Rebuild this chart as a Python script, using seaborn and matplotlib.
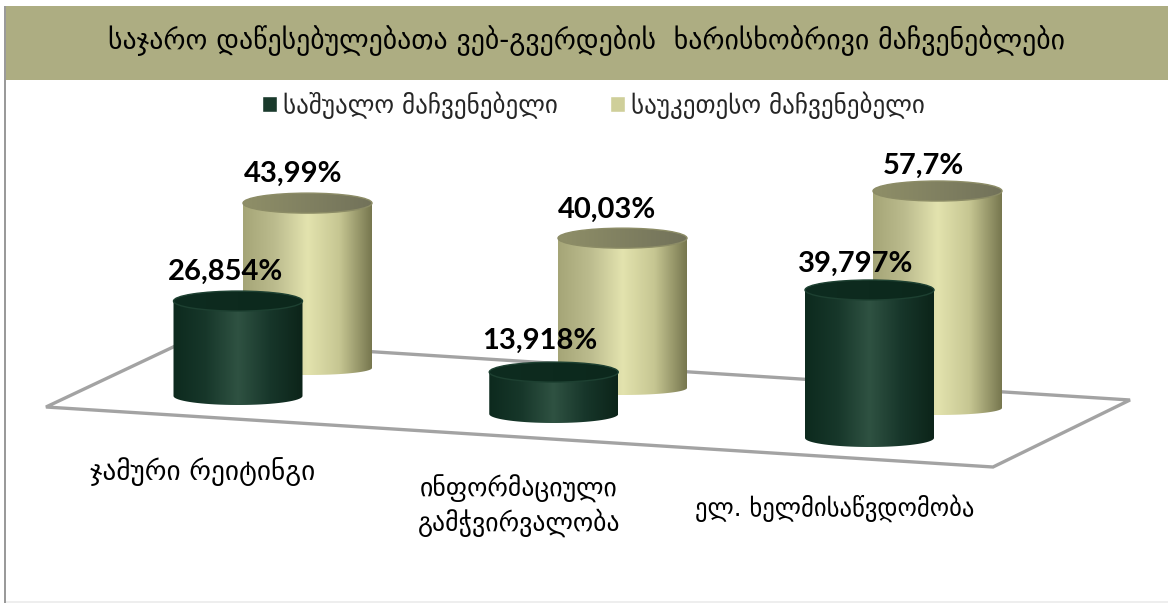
import matplotlib

matplotlib.use("Agg")
import matplotlib.pyplot as plt
import numpy as np
import pandas as pd
import seaborn as sns
from matplotlib.colors import LinearSegmentedColormap
from matplotlib.patches import Ellipse, PathPatch, Polygon, Rectangle
from matplotlib.path import Path

W, H = 1168, 603

title = "საჯარო დაწესებულებათა ვებ-გვერდების  ხარისხობრივი მაჩვენებლები"
categories = ["ჯამური რეიტინგი", "ინფორმაციული\nგამჭვირვალობა", "ელ. ხელმისაწვდომობა"]
series_names = ["საშუალო მაჩვენებელი", "საუკეთესო მაჩვენებელი"]
average_values = [26.854, 13.918, 39.797]
best_values = [43.99, 40.03, 57.7]

# the 3d look: each series sits on its own plane, floor runs downhill to the right
near = dict(scale=4.1, start=3.7, base=[396, 414, 438], x0=238, dx=315.75, minor_top=10, minor_bot=9,
            stops=["#0d2a1e", "#17372a", "#2f5242", "#17362a", "#0c2419"], top=["#0e2c20", "#0c281c"],
            rim="#1d4031", label_off=[(-12, 19), (-14, 21), (-14, 16)])
far = dict(scale=3.8, start=0.6, base=[368, 388, 408], x0=307.5, dx=315, minor_top=10, minor_bot=7,
           stops=["#a5a577", "#bcbc8e", "#e3e3ae", "#c6c692", "#77774f"], top=["#8f8f68", "#72725a"],
           rim="#8c8c66", label_off=[(-14, 19), (-16, 18), (-14, 15)])
floor_px = [(46, 407), (188, 340), (1130, 400), (993, 467)]


def draw_series(fig, name, values, color, plane):
    ax = fig.add_axes([0, 0, 1, 1])
    ax.patch.set_alpha(0)
    df = pd.DataFrame({"category": categories, "value": values, "series": name})
    sns.barplot(data=df, x="category", y="value", hue="series", palette=[color], order=categories,
                width=129 / plane["dx"], saturation=1, legend=False, ax=ax)
    s = plane["scale"]
    cmap = LinearSegmentedColormap.from_list("cyl", plane["stops"])
    cmap_top = LinearSegmentedColormap.from_list("cyl_top", plane["top"])
    ramp = np.linspace(0, 1, 256)[None, :]
    for i, bar in enumerate(ax.containers[0]):
        bar.set_y((H - plane["base"][i]) / s)
        bar.set_height(values[i] - plane["start"])
        left, w = bar.get_x(), bar.get_width()
        y0, y1 = bar.get_y(), bar.get_y() + bar.get_height()
        bar.set_visible(False)
        t = np.linspace(np.pi, 2 * np.pi, 40)
        xs = left + w / 2 + w / 2 * np.cos(t)
        ys = y0 + plane["minor_bot"] / s * np.sin(t)
        verts = [(left, y1)] + list(zip(xs, ys)) + [(left + w, y1), (left, y1)]
        body = PathPatch(Path(verts), transform=ax.transData, fc="none", ec="none")
        ax.add_patch(body)
        low = y0 - plane["minor_bot"] / s
        im = ax.imshow(ramp, extent=(left, left + w, low, y1), cmap=cmap, aspect="auto", zorder=3)
        im.set_clip_path(body)
        cap = Ellipse((left + w / 2, y1), w, 2 * plane["minor_top"] / s, transform=ax.transData,
                      fc="none", ec=plane["rim"], lw=1, zorder=5)
        ax.add_patch(cap)
        high = y1 + plane["minor_top"] / s
        im_top = ax.imshow(ramp, extent=(left, left + w, y1 - plane["minor_top"] / s, high), cmap=cmap_top,
                           aspect="auto", zorder=4)
        im_top.set_clip_path(cap)
        dx, dy = plane["label_off"][i]
        ax.annotate(f"{values[i]:g}".replace(".", ",") + "%", (left + w / 2, high), xytext=(dx, dy),
                    textcoords="offset pixels", ha="center", va="center", fontsize=21, fontweight="bold",
                    family="Lato", color="black", zorder=8)
    ax.set_xlim(-plane["x0"] / plane["dx"], (W - plane["x0"]) / plane["dx"])
    ax.set_ylim(0, H / s)
    ax.axis("off")
    return ax


sns.set_theme(style="white")
plt.rcParams["font.family"] = ["DejaVu Sans"]
fig = plt.figure(figsize=(W / 100, H / 100), dpi=100, facecolor="white")

fx = lambda px: px / W
fy = lambda py: 1 - py / H

fig.add_artist(Rectangle((fx(6), fy(80)), fx(1162), 74 / H, transform=fig.transFigure, fc="#adad82", ec="none", zorder=-3))
fig.add_artist(Rectangle((fx(4), 0), 2 / W, fy(6), transform=fig.transFigure, fc="#9a9a9a", ec="none", zorder=-3))
fig.add_artist(Rectangle((fx(6), 0), fx(1162), 2 / H, transform=fig.transFigure, fc="#eeeeee", ec="none", zorder=-3))
fig.add_artist(Polygon([(fx(x), fy(y)) for x, y in floor_px], closed=True, transform=fig.transFigure,
                       fc="white", ec="#a3a3a3", lw=2.4, zorder=-2))
fig.text(fx(587), fy(41), title, ha="center", va="center", fontsize=20, color="black")

ax_far = draw_series(fig, series_names[1], best_values, "#d8d8a0", far)
ax_near = draw_series(fig, series_names[0], average_values, "#1a3a2c", near)

handles = [Rectangle((0, 0), 1, 1, fc="#1a3a2c"), Rectangle((0, 0), 1, 1, fc="#cfcf9a")]
fig.legend(handles, series_names, loc="center", bbox_to_anchor=(fx(593.5), fy(105)), ncols=2, frameon=False,
           fontsize=18, handlelength=0.6, handleheight=0.6, handletextpad=0.24, columnspacing=2.1)

label_sizes = [19.6, 18.5, 17.7]
for i, (px, py) in enumerate([(203, 472), (519, 506), (835, 508)]):
    fig.text(fx(px), fy(py), categories[i], ha="center", va="center", fontsize=label_sizes[i], color="black", linespacing=1.25)

fig.savefig("out.png", dpi=100)
